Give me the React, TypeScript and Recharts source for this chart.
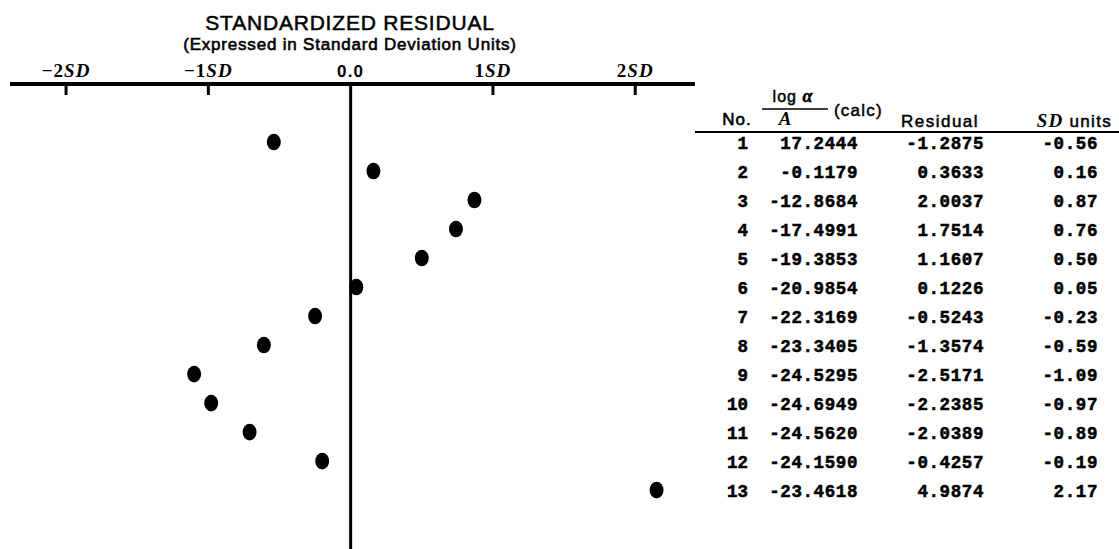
import React from "react";
import { ScatterChart, Scatter, XAxis, YAxis, ReferenceLine } from "recharts";

// table columns (as printed)
const rowNo = ["1", "2", "3", "4", "5", "6", "7", "8", "9", "10", "11", "12", "13"];
const logAlphaCalc = [
  "17.2444", "-0.1179", "-12.8684", "-17.4991", "-19.3853", "-20.9854", "-22.3169",
  "-23.3405", "-24.5295", "-24.6949", "-24.5620", "-24.1590", "-23.4618",
];
const residuals = [
  "-1.2875", "0.3633", "2.0037", "1.7514", "1.1607", "0.1226", "-0.5243",
  "-1.3574", "-2.5171", "-2.2385", "-2.0389", "-0.4257", "4.9874",
];
const sdUnits = [
  "-0.56", "0.16", "0.87", "0.76", "0.50", "0.05", "-0.23",
  "-0.59", "-1.09", "-0.97", "-0.89", "-0.19", "2.17",
];

// dot positions (SD units)
const plottedSD = [-0.54, 0.16, 0.87, 0.74, 0.5, 0.04, -0.25, -0.61, -1.1, -0.98, -0.71, -0.2, 2.15];
const rowIndex = [1, 2, 3, 4, 5, 6, 7, 8, 9, 10, 11, 12, 13];

const tickValues = [-2, -1, 0, 1, 2];
const tickNums = ["\u22122", "\u22121", "0.0", "1", "2"];
const tickUnits = ["SD", "SD", "", "SD", "SD"];

const points = plottedSD.map((v, i) => ({ sd: v, row: rowIndex[i] }));

const SANS = "'Liberation Sans', Arial, Helvetica, sans-serif";
const SERIF = "'Liberation Serif', 'Times New Roman', serif";
const MONO = "'Liberation Mono', 'DejaVu Sans Mono', monospace";

const SdTick = (props: any) => {
  const { x, y, payload } = props;
  const i = tickValues.indexOf(payload.value);
  if (tickUnits[i] === "") {
    return (
      <text x={x} y={y - 7} textAnchor="middle" fontFamily={SANS} fontWeight="bold" fontSize={17} letterSpacing={1.2} fill="#000">
        {tickNums[i]}
      </text>
    );
  }
  return (
    <g>
      <line x1={x} y1={y} x2={x} y2={y + 11} stroke="#000" strokeWidth={3} />
      <text x={x} y={y - 7} textAnchor="middle" fontFamily={SERIF} fontWeight="bold" fontSize={19} letterSpacing={1} fill="#000">
        <tspan>{tickNums[i]}</tspan>
        <tspan fontStyle="italic">{tickUnits[i]}</tspan>
      </text>
    </g>
  );
};

const Dot = (props: any) => {
  const { cx, cy } = props;
  return <ellipse cx={cx} cy={cy} rx={7} ry={8.3} fill="#000" />;
};

const rowY = (i: number) => 142 + 29 * i;

export default function App() {
  return (
    <div style={{ position: "absolute", left: 0, top: 0, width: 1119, height: 549, background: "#fff" }}>
      <div style={{ position: "absolute", left: 0, top: 0 }}>
        <ScatterChart width={700} height={549} margin={{ top: 54, right: 5, bottom: 0, left: 10 }}>
          <XAxis
            dataKey="sd"
            type="number"
            orientation="top"
            height={30}
            domain={[-2.394, 2.42]}
            ticks={tickValues}
            allowDataOverflow
            axisLine={{ stroke: "#000", strokeWidth: 4 }}
            tickLine={false}
            tickSize={0}
            tickMargin={0}
            tick={<SdTick />}
            interval={0}
          />
          <YAxis dataKey="row" type="number" domain={[-1, 15.03]} reversed hide />
          <ReferenceLine x={0} stroke="#000" strokeWidth={3} />
          <Scatter data={points} isAnimationActive={false} shape={<Dot />} />
        </ScatterChart>
      </div>
      <svg width={1119} height={549} style={{ position: "absolute", left: 0, top: 0, pointerEvents: "none" }}>
        <text x={350} y={30} textAnchor="middle" fontFamily={SANS} fontSize={21} letterSpacing={0.8} fill="#000" stroke="#000" strokeWidth={0.5}>
          STANDARDIZED RESIDUAL
        </text>
        <text x={350} y={50} textAnchor="middle" fontFamily={SANS} fontSize={17} letterSpacing={0.8} fill="#000" stroke="#000" strokeWidth={0.6}>
          (Expressed in Standard Deviation Units)
        </text>

        {/* table header */}
        <text x={793} y={102} textAnchor="middle" fontFamily={SANS} fontSize={16} letterSpacing={1} fill="#000" stroke="#000" strokeWidth={0.5}>
          log <tspan fontFamily={SERIF} fontStyle="italic" fontWeight="bold" fontSize={18}>{"\u03b1"}</tspan>
        </text>
        <line x1={762} y1={109} x2={828} y2={109} stroke="#000" strokeWidth={1.6} />
        <text x={785} y={125} textAnchor="middle" fontFamily={SERIF} fontWeight="bold" fontStyle="italic" fontSize={19} fill="#000">
          A
        </text>
        <text x={834} y={116} fontFamily={SANS} fontSize={17} letterSpacing={1.2} fill="#000" stroke="#000" strokeWidth={0.5}>
          (calc)
        </text>
        <text x={737} y={125} textAnchor="middle" fontFamily={SANS} fontSize={17} letterSpacing={1} fill="#000" stroke="#000" strokeWidth={0.6}>
          No.
        </text>
        <text x={940} y={127} textAnchor="middle" fontFamily={SANS} fontSize={17} letterSpacing={1.5} fill="#000" stroke="#000" strokeWidth={0.5}>
          Residual
        </text>
        <text x={1112} y={127} textAnchor="end" fontFamily={SANS} fontSize={17} letterSpacing={1.3} fill="#000" stroke="#000" strokeWidth={0.5}>
          <tspan fontFamily={SERIF} fontStyle="italic" fontWeight="bold" fontSize={19} strokeWidth={0}>SD</tspan> units
        </text>
        <line x1={695} y1={132} x2={1119} y2={132} stroke="#000" strokeWidth={2} />

        {rowNo.map((n, i) => (
          <g key={n} fontFamily={MONO} fontWeight="bold" fontSize={17.5} fill="#000" stroke="#000" strokeWidth={0.5}>
            <text x={748} y={rowY(i) + 7} textAnchor="end">{n}</text>
            <text x={858} y={rowY(i) + 7} textAnchor="end" letterSpacing={0.6}>{logAlphaCalc[i]}</text>
            <text x={984} y={rowY(i) + 7} textAnchor="end" letterSpacing={0.6}>{residuals[i]}</text>
            <text x={1098} y={rowY(i) + 7} textAnchor="end" letterSpacing={0.6}>{sdUnits[i]}</text>
          </g>
        ))}
      </svg>
    </div>
  );
}
